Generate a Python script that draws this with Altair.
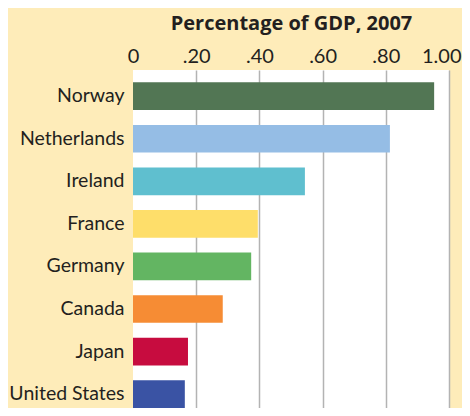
import altair as alt
import pandas as pd

countries = ["Norway", "Netherlands", "Ireland", "France", "Germany", "Canada", "Japan", "United States"]
values = [0.953, 0.813, 0.544, 0.395, 0.374, 0.284, 0.174, 0.164]
colors = ["#527654", "#95bde5", "#5fbfcf", "#fede6a", "#63b562", "#f68c34", "#c70c3f", "#3a53a4"]
tick_values = [0, 0.2, 0.4, 0.6, 0.8, 1.0]
tick_labels = ["0", ".20", ".40", ".60", ".80", "1.00"]

df = pd.DataFrame({"country": countries, "value": values})

label_expr = "[{}][indexof([{}], datum.value)]".format(
    ",".join("'{}'".format(t) for t in tick_labels),
    ",".join(str(v) for v in tick_values),
)

TEXT = "#231f20"
FONT = "Lato"

chart = alt.Chart(df).mark_bar().encode(
    x=alt.X(
        "value:Q",
        scale=alt.Scale(domain=[0, 1], nice=False),
        axis=alt.Axis(
            orient="top",
            values=tick_values,
            labelExpr=label_expr,
            labelFlush=False,
            labelAlign={"condition": {"test": "datum.value === 1", "value": "right"}, "value": "center"},
            labelOffset={"condition": {"test": "datum.value === 1", "value": 12}, "value": 0},
            ticks=False,
            domain=False,
            grid=True,
            gridColor="#b3b3b3",
            gridWidth=1.5,
            gridOpacity={"condition": {"test": "datum.value === 0", "value": 0}, "value": 1},
            labelPadding=8,
            labelBaseline="alphabetic",
            labelFontSize=20,
            labelFont=FONT,
            labelColor=TEXT,
            title="Percentage of GDP, 2007",
            titleFont="Open Sans",
            titleFontSize=20,
            titleFontWeight="bold",
            titleColor=TEXT,
            titleY=-41,
            titleBaseline="alphabetic",
        ),
    ),
    y=alt.Y(
        "country:N",
        sort=countries,
        scale=alt.Scale(paddingInner=0.35, paddingOuter=0.145, align=1),
        axis=alt.Axis(
            title=None,
            ticks=False,
            domain=False,
            grid=False,
            labelPadding=9,
            labelFontSize=19.5,
            labelFont=FONT,
            labelColor=TEXT,
        ),
    ),
    color=alt.Color("country:N", scale=alt.Scale(domain=countries, range=colors), legend=None),
).properties(
    width=316,
    height=338,
    autosize="none",
    padding={"left": 125, "top": 62, "right": 13, "bottom": 0},
    background="#feecb9",
).configure_view(fill="white", stroke=None)

chart.save("out.html", embed_options={"renderer": "svg", "actions": False})
